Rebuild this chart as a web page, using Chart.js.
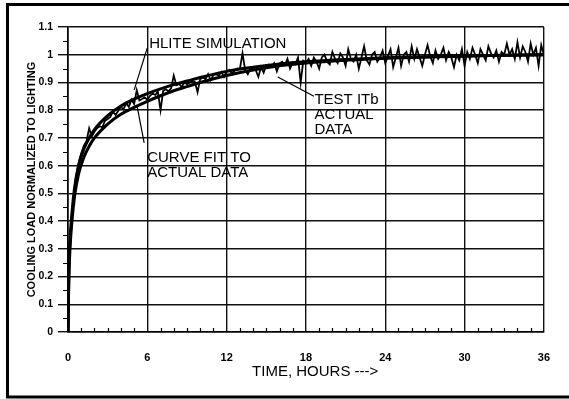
<!DOCTYPE html>
<html>
<head>
<meta charset="utf-8">
<script src="https://cdn.jsdelivr.net/npm/chart.js@4"></script>
<style>
  body { margin: 0; background: #fff; }
  canvas { display: block; }
</style>
</head>
<body>
<canvas id="load-chart" width="569" height="399"></canvas>
<script>
// Smooth curves: HLITE simulation and curve fit to the test data
const curveHours = [0, 0.03, 0.07, 0.15, 0.3, 0.5, 0.8, 1.2, 1.6, 2, 3, 4, 5, 6, 7, 8, 9, 10, 12, 14, 16, 18, 21, 24, 28, 32, 36];
const hliteLoad  = [0, 0.12, 0.23, 0.33, 0.43, 0.52, 0.6, 0.66, 0.7, 0.73, 0.78, 0.815, 0.84, 0.86, 0.877, 0.892, 0.905, 0.918, 0.94, 0.955, 0.967, 0.975, 0.983, 0.989, 0.994, 0.997, 1.0];
const fitLoad    = [0, 0.1, 0.2, 0.3, 0.4, 0.49, 0.57, 0.63, 0.67, 0.70, 0.75, 0.785, 0.81, 0.832, 0.852, 0.87, 0.885, 0.90, 0.925, 0.945, 0.96, 0.97, 0.98, 0.987, 0.993, 0.997, 1.0];

// Test ITb measured data: first hour, then sampled every 0.2 h from 1.2 h
const actualEarlyHours = [0, 0.03, 0.07, 0.12, 0.2, 0.3, 0.45, 0.6, 0.8, 1.0];
const actualEarlyLoad  = [0, 0.11, 0.21, 0.29, 0.36, 0.43, 0.5, 0.56, 0.61, 0.645];
const actualStartHour = 1.2;
const actualStepHours = 0.2;
const actualLoad = [
  .672, .688, .735, .705, .722,
  .735, .742, .738, .762, .768,
  .776, .795, .783, .798, .812,
  .803, .825, .812, .838, .822,
  .872, .835, .84, .846, .838,
  .852, .86, .855, .866, .80,
  .87, .875, .868, .879, .925,
  .89, .895, .884, .9, .894,
  .9, .905, .902, .865, .912,
  .918, .912, .93, .908, .927,
  .93, .925, .938, .92, .94,
  .945, .933, .942, .95, .948,
  1.005, .945, .93, .95, .955,
  .945, .92, .955, .935, .962,
  .965, .958, .97, .94, .968,
  .975, .962, .985, .95, .972,
  .965, .99, .90, .978, .97,
  .985, .96, .99, .975, .95,
  .99, 1.0, .975, .965, 1.01,
  .985, .97, 1.005, .99, .96,
  1.02, .985, .975, 1.0, .95,
  .99, 1.03, .98, .965, 1.0,
  1.01, .975, .99, 1.015, .97,
  .995, 1.02, .955, .99, 1.025,
  .96, 1.0, 1.01, .975, 1.03,
  .985, 1.02, .99, .96, 1.0,
  1.035, .995, .97, 1.015, .985,
  1.0, 1.025, .98, 1.01, .99,
  .955, 1.0, .98, 1.02, .96,
  1.01, .985, 1.025, 1.0, .97,
  1.02, 1.0, .98, 1.03, 1.005,
  .99, 1.015, .975, 1.01, 1.0,
  1.04, 1.0, 1.02, .985, 1.045,
  .99, 1.03, 1.01, .975, 1.04,
  1.0, 1.025, .96, 1.035, 1.0
];

const xTickHours = [0, 6, 12, 18, 24, 30, 36];
const xTitle = 'TIME, HOURS --->';
const yTitle = 'COOLING LOAD NORMALIZED TO LIGHTING';

// callout labels, anchored in hours / load units
const notes = [
  { lines: ['HLITE SIMULATION'], x: 6.14, y: 1.039, from: [5.99, 1.024], to: [5.01, 0.873] },
  { lines: ['CURVE FIT TO', 'ACTUAL DATA'], x: 5.99, y: 0.627, from: [5.76, 0.682], to: [5.24, 0.811] },
  { lines: ['TEST ITb', 'ACTUAL', 'DATA'], x: 18.64, y: 0.837, from: [18.6, 0.85], to: [15.87, 0.92] }
];

const actualPoints = actualEarlyHours.map((h, i) => ({ x: h, y: actualEarlyLoad[i] }))
  .concat(actualLoad.map((v, i) => ({ x: actualStartHour + i * actualStepHours, y: v })));
const hlitePoints = curveHours.map((h, i) => ({ x: h, y: hliteLoad[i] }));
const fitPoints = curveHours.map((h, i) => ({ x: h, y: fitLoad[i] }));

const FONT = '"Liberation Sans", Arial, sans-serif';

const extras = {
  id: 'extras',
  afterDraw(chart) {
    const ctx = chart.ctx;
    const xs = chart.scales.x, ys = chart.scales.y;
    const area = chart.chartArea;
    ctx.save();
    ctx.strokeStyle = '#000';

    // minor hour ticks, pointing up from the time axis
    ctx.lineWidth = 1.2;
    ctx.beginPath();
    for (let h = 1; h < 36; h++) {
      if (h % 6 === 0) continue;
      const px = Math.round(xs.getPixelForValue(h)) + 0.5;
      ctx.moveTo(px, area.bottom);
      ctx.lineTo(px, area.bottom - 4);
    }
    // half-step ticks on the load axis
    for (let k = 0; k < 11; k++) {
      const py = Math.round(ys.getPixelForValue(k * 0.1 + 0.05)) + 0.5;
      ctx.moveTo(area.left, py);
      ctx.lineTo(area.left - 5, py);
    }
    ctx.stroke();

    ctx.fillStyle = '#000';
    ctx.textBaseline = 'middle';

    // time axis title
    ctx.font = '15px ' + FONT;
    ctx.textAlign = 'center';
    ctx.fillText(xTitle, xs.getPixelForValue(18.7), area.bottom + 40);

    // callouts
    ctx.textAlign = 'left';
    ctx.lineWidth = 1.2;
    notes.forEach(n => {
      const tx = xs.getPixelForValue(n.x);
      const ty = ys.getPixelForValue(n.y);
      n.lines.forEach((s, i) => ctx.fillText(s, tx, ty + i * 15));
      ctx.beginPath();
      ctx.moveTo(xs.getPixelForValue(n.from[0]), ys.getPixelForValue(n.from[1]));
      ctx.lineTo(xs.getPixelForValue(n.to[0]), ys.getPixelForValue(n.to[1]));
      ctx.stroke();
    });

    // outer frame
    ctx.lineWidth = 3;
    ctx.beginPath();
    ctx.moveTo(chart.width, 4.5);
    ctx.lineTo(7.5, 4.5);
    ctx.lineTo(7.5, chart.height - 2);
    ctx.lineTo(chart.width, chart.height - 2);
    ctx.stroke();
    ctx.restore();
  }
};

new Chart(document.getElementById('load-chart'), {
  type: 'line',
  data: {
    datasets: [
      { label: 'Test ITb actual data', data: actualPoints, borderColor: '#000', borderWidth: 1.8, pointRadius: 0, tension: 0 },
      { label: 'HLITE simulation', data: hlitePoints, borderColor: '#000', borderWidth: 3, pointRadius: 0, cubicInterpolationMode: 'monotone' },
      { label: 'Curve fit to actual data', data: fitPoints, borderColor: '#000', borderWidth: 3, pointRadius: 0, cubicInterpolationMode: 'monotone' }
    ]
  },
  options: {
    responsive: false,
    animation: false,
    devicePixelRatio: 1,
    layout: { padding: { top: 27, right: 20, bottom: 0, left: 0 } },
    plugins: { legend: { display: false }, tooltip: { enabled: false } },
    scales: {
      x: {
        type: 'linear',
        min: 0,
        max: 36,
        afterBuildTicks: s => { s.ticks = xTickHours.map(v => ({ value: v })); },
        afterFit: s => { s.height = 67; },
        ticks: { color: '#000', font: { family: FONT, size: 11, weight: 'bold' }, padding: 19, maxRotation: 0 },
        grid: { color: '#111', lineWidth: 1.4, drawTicks: false },
        border: { color: '#000', width: 1.6 }
      },
      y: {
        min: 0,
        max: 1.1,
        ticks: {
          stepSize: 0.1,
          color: '#000',
          font: { family: FONT, size: 10.5, weight: 'bold' },
          padding: 5,
          callback: v => String(Math.round(v * 10) / 10)
        },
        afterFit: s => { s.width = 68; },
        grid: { color: '#111', lineWidth: 1.4, tickLength: 10 },
        border: { color: '#000', width: 1.6 },
        title: { display: true, text: yTitle, color: '#000', font: { family: FONT, size: 11, weight: 'bold' }, padding: { top: 25, bottom: 0 } }
      }
    }
  },
  plugins: [extras]
});
</script>
</body>
</html>
